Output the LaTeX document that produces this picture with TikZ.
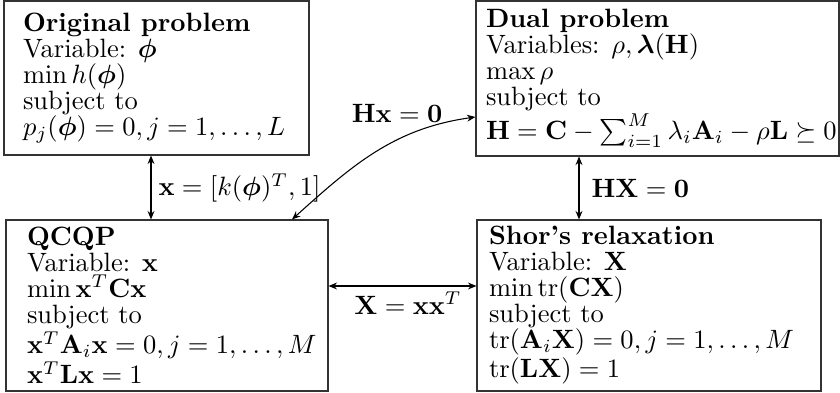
\documentclass[tikz,border=0pt]{standalone}
\usepackage{amsmath,amssymb}
\usetikzlibrary{arrows.meta,fit,calc}
\begin{document}
\begin{tikzpicture}[x=0.3774pt,y=0.3774pt,
 box/.style={draw=black!80, line width=0.4pt, inner sep=0pt},
 txt/.style={anchor=west, inner sep=0pt, align=left, font=\fontsize{10}{9.8}\selectfont},
 arr/.style={{Stealth[length=3.2pt,width=2.6pt]}-{Stealth[length=3.2pt,width=2.6pt]}, line width=0.4pt},
 lbl/.style={inner sep=0pt, font=\fontsize{10}{12}\selectfont}]
\useasboundingbox (0,0) rectangle (840,-393);
% boxes
\node[box, fit={(4,-1) (309,-155)}] (orig) {};
\node[box, fit={(476,-1) (839,-156)}] (dual) {};
\node[box, fit={(6,-220) (328,-391)}] (qcqp) {};
\node[box, fit={(477,-220) (821,-391)}] (shor) {};
% texts
\node[txt] (torig) at ($(orig.west)+(19,0)$) {\textbf{Original problem}\\ Variable: $\boldsymbol{\phi}$\\ $\min h(\boldsymbol{\phi})$\\ subject to\\ $p_j(\boldsymbol{\phi})=0, j=1,\ldots,L$};
\node[txt] (tdual) at ($(dual.west)+(10,0)$) {\textbf{Dual problem}\\ Variables: $\rho, \boldsymbol{\lambda}(\mathbf{H})$\\ $\max\rho$\\ subject to\\ $\mathbf{H}=\mathbf{C}-\sum_{i=1}^M\lambda_i\mathbf{A}_i-\rho\mathbf{L}\succeq 0$};
\node[txt] (tqcqp) at ($(qcqp.west)+(21,0)$) {\textbf{QCQP}\\ Variable: $\mathbf{x}$\\ $\min \mathbf{x}^T\mathbf{C}\mathbf{x}$\\ subject to\\ $\mathbf{x}^T\mathbf{A}_i\mathbf{x}=0, j=1,\ldots,M$\\ $\mathbf{x}^T\mathbf{L}\mathbf{x}=1$};
\node[txt] (tshor) at ($(shor.west)+(12,0)$) {\textbf{Shor's relaxation}\\ Variable: $\mathbf{X}$\\ $\min\operatorname{tr}(\mathbf{CX})$\\ subject to\\ $\operatorname{tr}(\mathbf{A}_i\mathbf{X})=0, j=1,\ldots,M$\\ $\operatorname{tr}(\mathbf{LX})=1$};
% connector positions
\coordinate (c1) at (151,0);
\coordinate (c2) at (579,0);
\coordinate (c3) at (0,-286);
\coordinate (c4) at (292,0);
\coordinate (c5) at (0,-117);
\draw[arr] (orig.south -| c1) -- (qcqp.north -| c1);
\draw[arr] (dual.south -| c2) -- (shor.north -| c2);
\draw[arr] (qcqp.east |- c3) -- (shor.west |- c3);
\draw[arr] (qcqp.north -| c4) to[out=42,in=188] (dual.west |- c5);
% labels
\node[lbl, anchor=west] (l1) at (158,-188) {$\mathbf{x}=[k(\boldsymbol{\phi})^T,1]$};
\node[lbl, anchor=west] (l2) at (591,-188) {$\mathbf{HX}=\mathbf{0}$};
\node[lbl] (l3) at (408,-303) {$\mathbf{X}=\mathbf{x}\mathbf{x}^T$};
\node[lbl] (l4) at (397,-113) {$\mathbf{Hx}=\mathbf{0}$};
\end{tikzpicture}
\end{document}
